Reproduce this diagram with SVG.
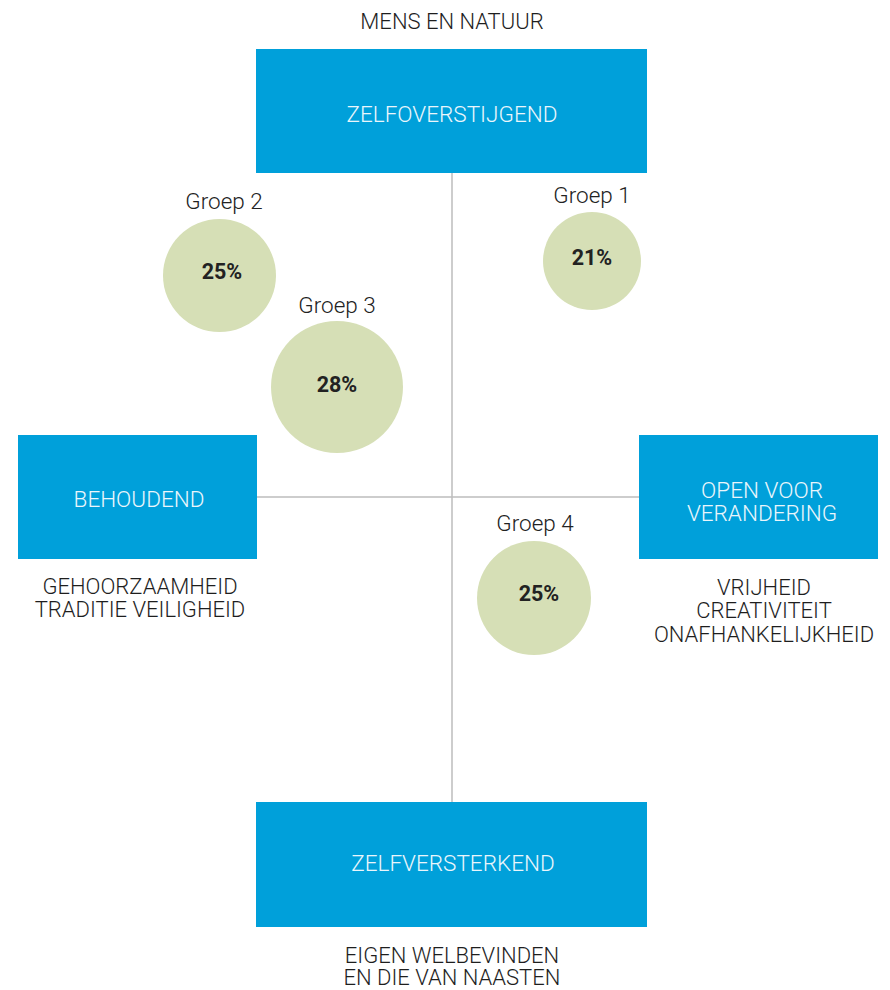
<svg xmlns="http://www.w3.org/2000/svg" width="890" height="990" viewBox="0 0 890 990">
<style>
.box{fill:#00a0da}
.bt{font-family:Roboto,"Liberation Sans",sans-serif;font-size:22.5px;font-weight:300;fill:#eaf6fc;text-anchor:middle}
.lb{font-family:Roboto,"Liberation Sans",sans-serif;font-size:22px;font-weight:300;fill:#1e1e1e;text-anchor:middle}
.circ{fill:#d6dfb6}
.gl{font-family:Roboto,"Liberation Sans",sans-serif;font-size:22.5px;font-weight:300;fill:#222;text-anchor:middle}
.pc{font-family:Roboto,"Liberation Sans",sans-serif;font-size:21.5px;font-weight:700;fill:#222;text-anchor:middle}
.ax{stroke:#bdbdbd;stroke-width:1.5;fill:none}
</style>
<rect width="890" height="990" fill="#fff"/>
<g id="connectors">
<line class="ax" x1="452" y1="173" x2="452" y2="802"/>
<line class="ax" x1="257" y1="497" x2="639" y2="497"/>
</g>
<text class="lb" x="452" y="29">MENS EN NATUUR</text>
<g id="top">
<rect class="box" x="256" y="49" width="391" height="124"/>
<text class="bt" x="452" y="122">ZELFOVERSTIJGEND</text>
</g>
<g id="left">
<rect class="box" x="18" y="435" width="239" height="124"/>
<text class="bt" x="139" y="507">BEHOUDEND</text>
<text class="lb" x="140" y="594">GEHOORZAAMHEID</text>
<text class="lb" x="140" y="617">TRADITIE VEILIGHEID</text>
</g>
<g id="right">
<rect class="box" x="639" y="435" width="239" height="124"/>
<text class="bt" x="762" y="498">OPEN VOOR</text>
<text class="bt" x="762" y="521">VERANDERING</text>
<text class="lb" x="764" y="595">VRIJHEID</text>
<text class="lb" x="764" y="618">CREATIVITEIT</text>
<text class="lb" x="764" y="642">ONAFHANKELIJKHEID</text>
</g>
<g id="bottom">
<rect class="box" x="256" y="802" width="391" height="125"/>
<text class="bt" x="453" y="871">ZELFVERSTERKEND</text>
<text class="lb" x="452" y="963">EIGEN WELBEVINDEN</text>
<text class="lb" x="452" y="985">EN DIE VAN NAASTEN</text>
</g>
<g id="groep1">
<text class="gl" x="592" y="203">Groep 1</text>
<circle class="circ" cx="592" cy="261" r="49"/>
<text class="pc" x="592" y="265">21%</text>
</g>
<g id="groep2">
<text class="gl" x="224" y="209">Groep 2</text>
<circle class="circ" cx="219.5" cy="275.5" r="56.5"/>
<text class="pc" x="222" y="279">25%</text>
</g>
<g id="groep3">
<text class="gl" x="337" y="313">Groep 3</text>
<circle class="circ" cx="337" cy="387" r="66"/>
<text class="pc" x="337" y="392">28%</text>
</g>
<g id="groep4">
<text class="gl" x="535" y="531">Groep 4</text>
<circle class="circ" cx="534" cy="598" r="57"/>
<text class="pc" x="539" y="601">25%</text>
</g>
</svg>
